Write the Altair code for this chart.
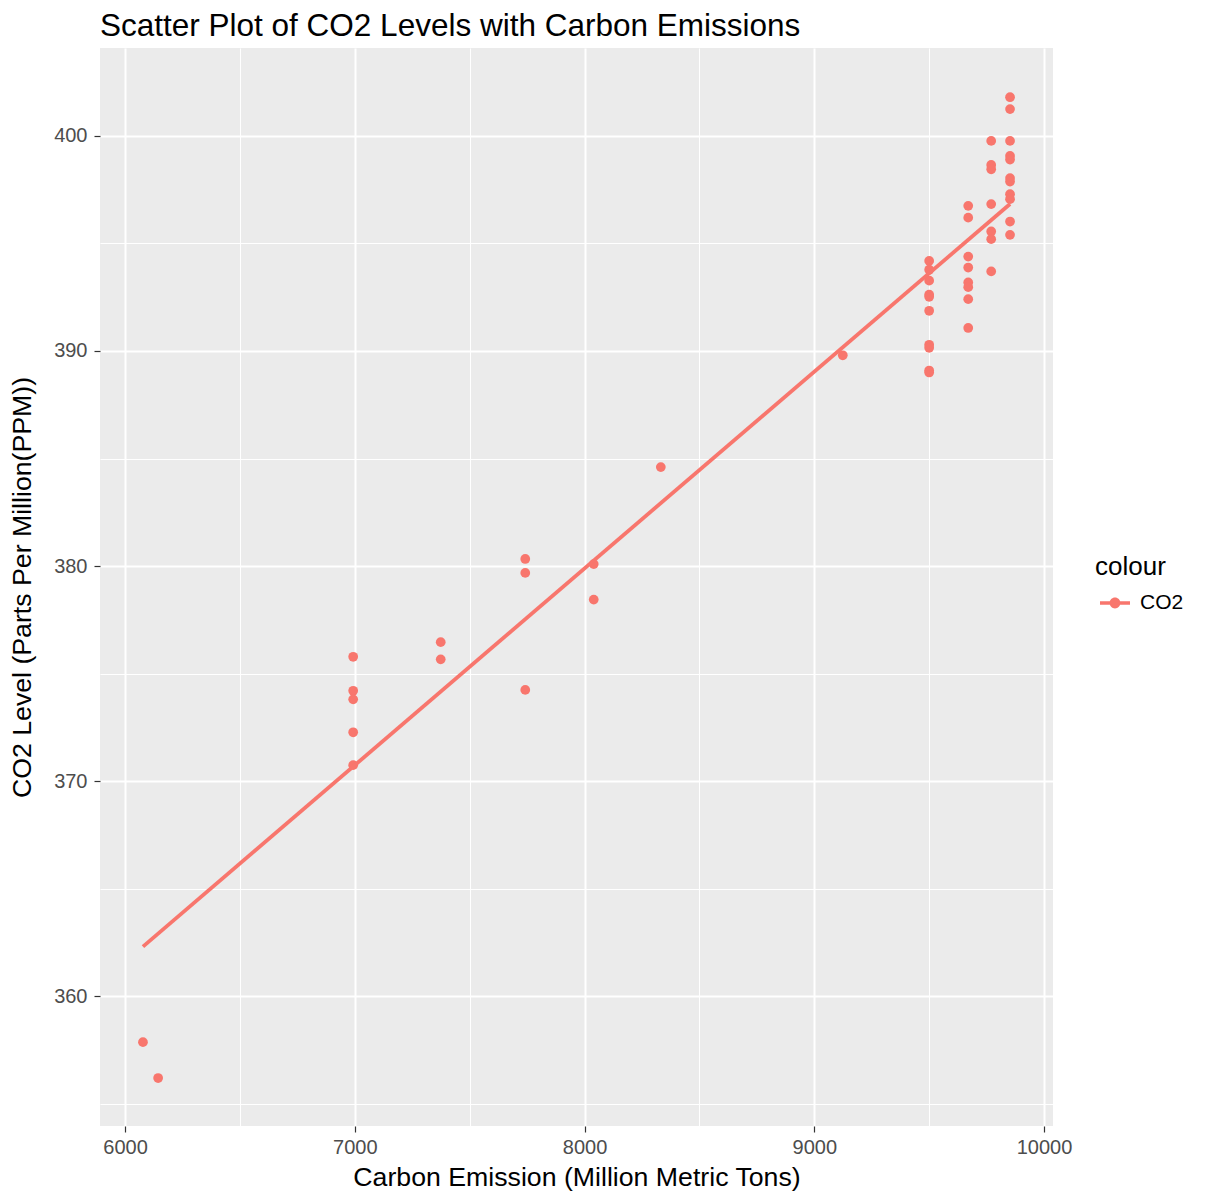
import altair as alt
import pandas as pd

# Data
emission = [6078, 6144,
            6993, 6993, 6993, 6993, 6993,
            7374, 7374,
            7742, 7742, 7742,
            8040, 8040,
            8332,
            9124,
            9500, 9500, 9500, 9500, 9500, 9500, 9500, 9500, 9500, 9500,
            9670, 9670, 9670, 9670, 9670, 9670, 9670, 9670,
            9770, 9770, 9770, 9770, 9770, 9770, 9770,
            9852, 9852, 9852, 9852, 9852, 9852, 9852, 9852, 9852, 9852, 9852]
co2 = [357.86, 356.19,
       375.78, 374.20, 373.80, 372.27, 370.74,
       376.46, 375.66,
       380.33, 379.68, 374.24,
       380.09, 378.44,
       384.60,
       389.80,
       394.19, 393.78, 393.27, 392.62, 392.52, 391.87, 390.29, 390.15, 389.09, 389.00,
       396.75, 396.20, 394.39, 393.88, 393.19, 392.97, 392.41, 391.07,
       399.77, 398.65, 398.45, 396.83, 395.56, 395.20, 393.70,
       401.80, 401.25, 399.77, 399.07, 398.90, 398.04, 397.88, 397.29, 397.06, 396.02, 395.40]
series = ["CO2"] * len(co2)

x_ticks = [6000, 6500, 7000, 7500, 8000, 8500, 9000, 9500, 10000]
y_ticks = [355, 360, 365, 370, 375, 380, 385, 390, 395, 400]

df = pd.DataFrame({"emission": emission, "co2": co2, "colour": series})

RED = "#F8766D"
FONT = "Liberation Sans"

xscale = alt.Scale(domain=[5891, 10039], nice=False, zero=False)
yscale = alt.Scale(domain=[353.96, 404.09], nice=False, zero=False)

x_axis = alt.Axis(
    values=x_ticks, format="d",
    labelExpr="datum.value % 1000 === 0 ? datum.label : ''",
    gridWidth={"condition": {"test": "datum.value % 1000 === 0", "value": 2}, "value": 1},
    tickOpacity={"condition": {"test": "datum.value % 1000 === 0", "value": 1}, "value": 0},
    title="Carbon Emission (Million Metric Tons)",
    titlePadding=7, labelPadding=5,
)
y_axis = alt.Axis(
    values=y_ticks, format="d",
    labelExpr="datum.value % 10 === 0 ? datum.label : ''",
    gridWidth={"condition": {"test": "datum.value % 10 === 0", "value": 2}, "value": 1},
    tickOpacity={"condition": {"test": "datum.value % 10 === 0", "value": 1}, "value": 0},
    title="CO2 Level (Parts Per Million(PPM))",
    titlePadding=17, labelPadding=7,
)

symbol_path = ("M-1,-0.12H1V0.12H-1Z "
               "M-0.36,0A0.36,0.36 0 1,1 0.36,0A0.36,0.36 0 1,1 -0.36,0Z")

points = alt.Chart(df).mark_point(filled=True, size=95, opacity=1).encode(
    x=alt.X("emission:Q", scale=xscale, axis=x_axis),
    y=alt.Y("co2:Q", scale=yscale, axis=y_axis),
    color=alt.Color("colour:N", scale=alt.Scale(range=[RED]),
                    legend=alt.Legend(
                        title="colour", orient="none", legendX=995, legendY=506,
                        symbolType=symbol_path, symbolSize=900,
                        symbolStrokeWidth=0, symbolOpacity=1, symbolOffset=5,
                        titleFontSize=26, titleFontWeight="normal", titleColor="black",
                        titleFont=FONT, titlePadding=8,
                        labelFontSize=21, labelColor="black", labelFont=FONT,
                        labelOffset=10, padding=0)),
)

line = alt.Chart(df).transform_regression("emission", "co2").mark_line(
    color=RED, strokeWidth=3.8
).encode(
    x=alt.X("emission:Q", scale=xscale),
    y=alt.Y("co2:Q", scale=yscale),
)

chart = alt.layer(points, line).properties(
    width=953, height=1078,
    title=alt.TitleParams("Scatter Plot of CO2 Levels with Carbon Emissions",
                          anchor="start", frame="group", fontSize=31.5,
                          fontWeight="normal", font=FONT, color="black", offset=6),
    autosize=alt.AutoSizeParams(type="none"),
    padding={"left": 92, "top": 40, "right": 146, "bottom": 65},
).configure_view(
    fill="#EBEBEB", stroke=None
).configure_axis(
    domain=False, gridColor="white", grid=True,
    tickColor="#333333", tickSize=6, tickWidth=1.2,
    labelFont=FONT, labelFontSize=20, labelColor="#4D4D4D",
    titleFont=FONT, titleFontSize=26.7, titleFontWeight="normal", titleColor="black",
)

chart.save("out.html", embed_options={"renderer": "svg", "actions": False})
